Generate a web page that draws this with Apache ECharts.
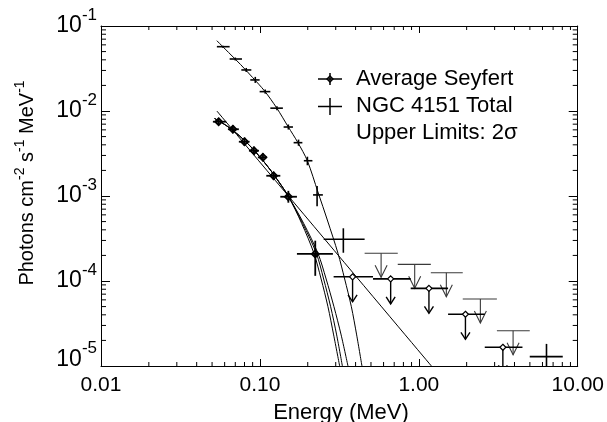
<!DOCTYPE html>
<html><head><meta charset="utf-8">
<script src="https://cdn.jsdelivr.net/npm/echarts/dist/echarts.min.js"></script>
<style>html,body{margin:0;padding:0;background:#fff}#c{width:607px;height:422px}</style>
</head><body><div id="c"></div>
<script>
// ---- tick labels ----
const xTickValues = [0.01, 0.1, 1, 10];
const xTickLabels = ['0.01', '0.10', '1.00', '10.00'];
const yTickExponents = ['-5', '-4', '-3', '-2', '-1']; // for 1e-5 .. 1e-1
const xMinorTicks = [0.02,0.03,0.04,0.05,0.06,0.07,0.08,0.09,0.2,0.3,0.4,0.5,0.6,0.7,0.8,0.9,2,3,4,5,6,7,8,9];
const yMinorTicks = [2e-5,3e-5,4e-5,5e-5,6e-5,7e-5,8e-5,9e-5,2e-4,3e-4,4e-4,5e-4,6e-4,7e-4,8e-4,9e-4,
                     2e-3,3e-3,4e-3,5e-3,6e-3,7e-3,8e-3,9e-3,2e-2,3e-2,4e-2,5e-2,6e-2,7e-2,8e-2,9e-2];

// ---- Average Seyfert data points ----
const avgE   = [0.055, 0.0676, 0.080, 0.0917, 0.1045, 0.122, 0.151, 0.223];
const avgF   = [7.48e-3, 6.10e-3, 4.35e-3, 3.41e-3, 2.85e-3, 1.73e-3, 9.8e-4, 2.08e-4];
const avgElo = [0.0506, 0.0629, 0.0737, 0.0853, 0.0971, 0.1097, 0.1344, 0.171];
const avgEhi = [0.0614, 0.0737, 0.0861, 0.0986, 0.1107, 0.1344, 0.171, 0.288];
const avgFlo = [6.85e-3, 5.48e-3, 3.90e-3, 3.05e-3, 2.56e-3, 1.54e-3, 8.34e-4, 1.15e-4];
const avgFhi = [8.2e-3, 6.80e-3, 4.85e-3, 3.79e-3, 3.18e-3, 1.93e-3, 1.15e-3, 2.98e-4];

// ---- Average Seyfert upper limits ----
const avgUlE   = [0.383, 0.665, 1.158, 1.965, 3.38];
const avgUlF   = [1.12e-4, 1.06e-4, 8.2e-5, 4.06e-5, 1.66e-5];
const avgUlElo = [0.291, 0.515, 0.889, 1.528, 2.60];
const avgUlEhi = [0.515, 0.889, 1.528, 2.60, 4.49];

// ---- NGC 4151 total data points ----
const ngcE   = [0.0585, 0.070, 0.082, 0.0935, 0.108, 0.128, 0.151, 0.175, 0.199, 0.229, 0.335, 6.36];
const ngcF   = [5.71e-2, 4.09e-2, 3.04e-2, 2.32e-2, 1.69e-2, 1.08e-2, 6.48e-3, 4.24e-3, 2.60e-3, 1.03e-3, 3.10e-4, 1.29e-5];
const ngcElo = [0.0536, 0.0645, 0.0764, 0.0870, 0.0996, 0.1163, 0.141, 0.163, 0.189, 0.216, 0.252, 4.99];
const ngcEhi = [0.0645, 0.0771, 0.0883, 0.0996, 0.1163, 0.1395, 0.1614, 0.185, 0.214, 0.249, 0.456, 8.05];
const ngcFlo = [5.55e-2, 3.93e-2, 2.88e-2, 2.14e-2, 1.60e-2, 1.02e-2, 6.05e-3, 3.90e-3, 2.30e-3, 7.6e-4, 2.15e-4, 8e-6];
const ngcFhi = [5.87e-2, 4.26e-2, 3.21e-2, 2.52e-2, 1.79e-2, 1.14e-2, 6.94e-3, 4.61e-3, 2.90e-3, 1.31e-3, 4.17e-4, 1.82e-5];

// ---- NGC 4151 upper limits ----
const ngcUlE   = [0.579, 0.942, 1.49, 2.44, 3.92];
const ngcUlF   = [2.12e-4, 1.57e-4, 1.25e-4, 6.14e-5, 2.6e-5];
const ngcUlElo = [0.456, 0.737, 1.19, 1.89, 3.10];
const ngcUlEhi = [0.737, 1.19, 1.89, 3.10, 4.99];

// ---- model curves ----
const powerLawE = [0.0536, 1.20];
const powerLawF = [1.0e-2, 1.0e-5];
const ngcCurveE = [0.05358,0.06353,0.07555,0.08995,0.1070,0.1274,0.1505,0.1735,0.1988,0.2318,0.2669,0.3099,0.3415,0.3763,0.4063,0.4387];
const ngcCurveF = [0.0672,0.04877,0.03524,0.02478,0.01719,0.01090,6.54e-3,4.24e-3,2.60e-3,1.114e-3,5.08e-4,2.12e-4,1.056e-4,4.98e-5,2.32e-5,1.0e-5];
const avgCurveHeadE = [0.05183,0.05738,0.06446,0.07449,0.08612,0.09956,0.1151,0.1330,0.1516];
const avgCurveHeadF = [8.16e-3,7.32e-3,6.33e-3,5.09e-3,3.93e-3,2.91e-3,2.08e-3,1.426e-3,9.81e-4];
const avgCurveTailF = [4.77e-4,2.12e-4,1.056e-4,4.98e-5,2.32e-5,1.0e-5];
const avgCurveAE = [0.1831,0.2188,0.2428,0.2681,0.2911,0.3176];
const avgCurveBE = [0.1857,0.2265,0.2518,0.2787,0.3041,0.3303];
const avgCurveCE = [0.1884,0.2318,0.2611,0.2924,0.3245,0.3582];

// ---- labels ----
const xTitle = 'Energy (MeV)';
const legendTexts = ['Average Seyfert', 'NGC 4151 Total', 'Upper Limits: 2\u03c3'];

const FONT = '"Liberation Sans", Arial, Helvetica, sans-serif';
const zip = (a, b) => a.map((v, i) => [v, b[i]]);

function seg(x1, y1, x2, y2, w, c) {
  return {type: 'line', shape: {x1, y1, x2, y2}, style: {stroke: c || '#000', lineWidth: w}};
}
function diamond(x, y, r, w, fill) {
  return {type: 'polygon', shape: {points: [[x, y - r], [x + r, y], [x, y + r], [x - r, y]]},
          style: {stroke: '#000', lineWidth: w, fill: fill || 'none'}};
}
function renderBars(withDiamond, w) {
  return function (params, api) {
    const c = api.coord([api.value(0), api.value(1)]);
    const l = api.coord([api.value(2), api.value(1)]);
    const r = api.coord([api.value(3), api.value(1)]);
    const lo = api.coord([api.value(0), api.value(4)]);
    const hi = api.coord([api.value(0), api.value(5)]);
    const ch = [seg(l[0], c[1], r[0], c[1], w), seg(c[0], lo[1], c[0], hi[1], w)];
    if (withDiamond) ch.push(diamond(c[0], c[1], 3.5, 1.8, 'none'));
    return {type: 'group', children: ch};
  };
}
function renderAvgUl(params, api) {
  const c = api.coord([api.value(0), api.value(1)]);
  const l = api.coord([api.value(2), api.value(1)]);
  const r = api.coord([api.value(3), api.value(1)]);
  const x = c[0], y = c[1];
  return {type: 'group', children: [
    seg(l[0], y, r[0], y, 1.6),
    seg(x, y, x, y + 25, 1.4),
    {type: 'polyline', shape: {points: [[x - 4.5, y + 18], [x, y + 25], [x + 4.5, y + 18]]},
     style: {stroke: '#000', lineWidth: 1.4, fill: 'none'}},
    diamond(x, y, 3, 1.2, '#fff')
  ]};
}
function renderNgcUl(params, api) {
  const c = api.coord([api.value(0), api.value(1)]);
  const l = api.coord([api.value(2), api.value(1)]);
  const r = api.coord([api.value(3), api.value(1)]);
  const x = c[0], y = c[1], col = '#3a3a3a';
  return {type: 'group', children: [
    seg(l[0], y, r[0], y, 1.2, col),
    seg(x, y, x, y + 24, 1.1, col),
    {type: 'polyline', shape: {points: [[x - 6, y + 12], [x, y + 24], [x + 6, y + 12]]},
     style: {stroke: col, lineWidth: 1.1, fill: 'none'}}
  ]};
}
function renderXMinor(params, api) {
  const cs = params.coordSys;
  const x = api.coord([api.value(0), 1e-3])[0];
  const yb = cs.y + cs.height, yt = cs.y;
  return {type: 'group', children: [seg(x, yb, x, yb - 4, 1), seg(x, yt, x, yt + 4, 1)]};
}
function renderYMinor(params, api) {
  const cs = params.coordSys;
  const y = api.coord([1, api.value(1)])[1];
  const xl = cs.x, xr = cs.x + cs.width;
  return {type: 'group', children: [seg(xl, y, xl + 5, y, 1), seg(xr, y, xr - 5, y, 1)]};
}

function xLabel(v) {
  const i = Math.round(Math.log10(v)) + 2;
  return xTickLabels[i] !== undefined ? xTickLabels[i] : '';
}
function yLabel(v) {
  const i = Math.round(Math.log10(v)) + 5;
  if (i === 0) return '{b0|10}{s0|' + yTickExponents[i] + '}';
  return '{b|10}{s|' + yTickExponents[i] + '}';
}

const axisCommon = {
  type: 'log', logBase: 10,
  axisLine: {show: true, lineStyle: {color: '#000', width: 1}},
  splitLine: {show: false},
  minorTick: {show: false}
};

const lineSeries = (name, E, F) => ({
  type: 'line', name, data: zip(E, F), showSymbol: false, symbol: 'none',
  smooth: 0.3, lineStyle: {color: '#000', width: 1}, clip: true, silent: true, z: 2
});

const chart = echarts.init(document.getElementById('c'), null, {renderer: 'canvas'});
chart.setOption({
  animation: false,
  backgroundColor: '#fff',
  grid: {left: 101, right: 29, top: 26, bottom: 56, containLabel: false},
  xAxis: [
    Object.assign({}, axisCommon, {
      min: 0.01, max: 10, position: 'bottom',
      axisTick: {show: true, inside: true, length: 7, lineStyle: {color: '#000'}},
      axisLabel: {formatter: xLabel, fontSize: 21, color: '#000', fontFamily: FONT, margin: 9,
                  showMinLabel: true, showMaxLabel: true}
    }),
    Object.assign({}, axisCommon, {
      min: 0.01, max: 10, position: 'top',
      axisTick: {show: true, inside: true, length: 7, lineStyle: {color: '#000'}},
      axisLabel: {show: false}
    })
  ],
  yAxis: [
    Object.assign({}, axisCommon, {
      min: 1e-5, max: 1e-1, position: 'left',
      axisTick: {show: true, inside: true, length: 9, lineStyle: {color: '#000'}},
      axisLabel: {formatter: yLabel, margin: 4, showMinLabel: true, showMaxLabel: true,
        rich: {
          b: {fontSize: 23, fontFamily: FONT, color: '#000', verticalAlign: 'middle', lineHeight: 38},
          s: {fontSize: 17, fontFamily: FONT, color: '#000', verticalAlign: 'top', lineHeight: 18},
          b0: {fontSize: 23, fontFamily: FONT, color: '#000', verticalAlign: 'middle', lineHeight: 52, padding: [0, 0, 12, 0]},
          s0: {fontSize: 17, fontFamily: FONT, color: '#000', verticalAlign: 'top', lineHeight: 18}
        }}
    }),
    Object.assign({}, axisCommon, {
      min: 1e-5, max: 1e-1, position: 'right',
      axisTick: {show: true, inside: true, length: 9, lineStyle: {color: '#000'}},
      axisLabel: {show: false}
    })
  ],
  graphic: [
    {type: 'text', x: 25, y: 183, rotation: Math.PI / 2, silent: true,
     style: {text: '{m|Photons cm}{s|-2}{m| s}{s|-1}{m| MeV}{s|-1}', align: 'center', verticalAlign: 'middle',
       rich: {
         m: {fontSize: 20, fontFamily: FONT, fill: '#000', verticalAlign: 'bottom', lineHeight: 24},
         s: {fontSize: 14, fontFamily: FONT, fill: '#000', verticalAlign: 'top', lineHeight: 24}
       }}},
    {type: 'text', x: 341, y: 413, silent: true,
     style: {text: xTitle, fontSize: 22, fontFamily: FONT, fill: '#000', align: 'center', verticalAlign: 'middle'}},
    // legend symbols
    {type: 'line', silent: true, shape: {x1: 318, y1: 79, x2: 342, y2: 79}, style: {stroke: '#000', lineWidth: 1.5}},
    {type: 'line', silent: true, shape: {x1: 330, y1: 73, x2: 330, y2: 85}, style: {stroke: '#000', lineWidth: 1.5}},
    {type: 'polygon', silent: true, shape: {points: [[330, 76], [333, 79], [330, 82], [327, 79]]},
     style: {stroke: '#000', lineWidth: 1.4, fill: 'none'}},
    {type: 'line', silent: true, shape: {x1: 318, y1: 106.5, x2: 342, y2: 106.5}, style: {stroke: '#000', lineWidth: 1.5}},
    {type: 'line', silent: true, shape: {x1: 330, y1: 98, x2: 330, y2: 115}, style: {stroke: '#000', lineWidth: 1.5}},
    // legend texts
    {type: 'text', x: 356, y: 79, silent: true,
     style: {text: legendTexts[0], fontSize: 22, fontFamily: FONT, fill: '#000', align: 'left', verticalAlign: 'middle'}},
    {type: 'text', x: 356, y: 106, silent: true,
     style: {text: legendTexts[1], fontSize: 22, fontFamily: FONT, fill: '#000', align: 'left', verticalAlign: 'middle'}},
    {type: 'text', x: 356, y: 133, silent: true,
     style: {text: legendTexts[2], fontSize: 22, fontFamily: FONT, fill: '#000', align: 'left', verticalAlign: 'middle'}}
  ],
  series: [
    {type: 'custom', name: 'xminor', renderItem: renderXMinor, data: xMinorTicks.map(v => [v, 1e-3]), clip: false, silent: true, z: 5},
    {type: 'custom', name: 'yminor', renderItem: renderYMinor, data: yMinorTicks.map(v => [1, v]), clip: false, silent: true, z: 5},
    lineSeries('Power law', powerLawE, powerLawF),
    lineSeries('NGC model', ngcCurveE, ngcCurveF),
    lineSeries('Avg model A', avgCurveHeadE.concat(avgCurveAE), avgCurveHeadF.concat(avgCurveTailF)),
    lineSeries('Avg model B', avgCurveHeadE.concat(avgCurveBE), avgCurveHeadF.concat(avgCurveTailF)),
    lineSeries('Avg model C', avgCurveHeadE.concat(avgCurveCE), avgCurveHeadF.concat(avgCurveTailF)),
    {type: 'custom', name: 'NGC 4151 Total', renderItem: renderBars(false, 1.6), clip: true, silent: true, z: 4,
     data: ngcE.map((e, i) => [e, ngcF[i], ngcElo[i], ngcEhi[i], ngcFlo[i], ngcFhi[i]])},
    {type: 'custom', name: 'Average Seyfert', renderItem: renderBars(true, 1.8), clip: true, silent: true, z: 4,
     data: avgE.map((e, i) => [e, avgF[i], avgElo[i], avgEhi[i], avgFlo[i], avgFhi[i]])},
    {type: 'custom', name: 'NGC UL', renderItem: renderNgcUl, clip: true, silent: true, z: 3,
     data: ngcUlE.map((e, i) => [e, ngcUlF[i], ngcUlElo[i], ngcUlEhi[i]])},
    {type: 'custom', name: 'Avg UL', renderItem: renderAvgUl, clip: true, silent: true, z: 4,
     data: avgUlE.map((e, i) => [e, avgUlF[i], avgUlElo[i], avgUlEhi[i]])}
  ]
});
</script>
</body></html>
